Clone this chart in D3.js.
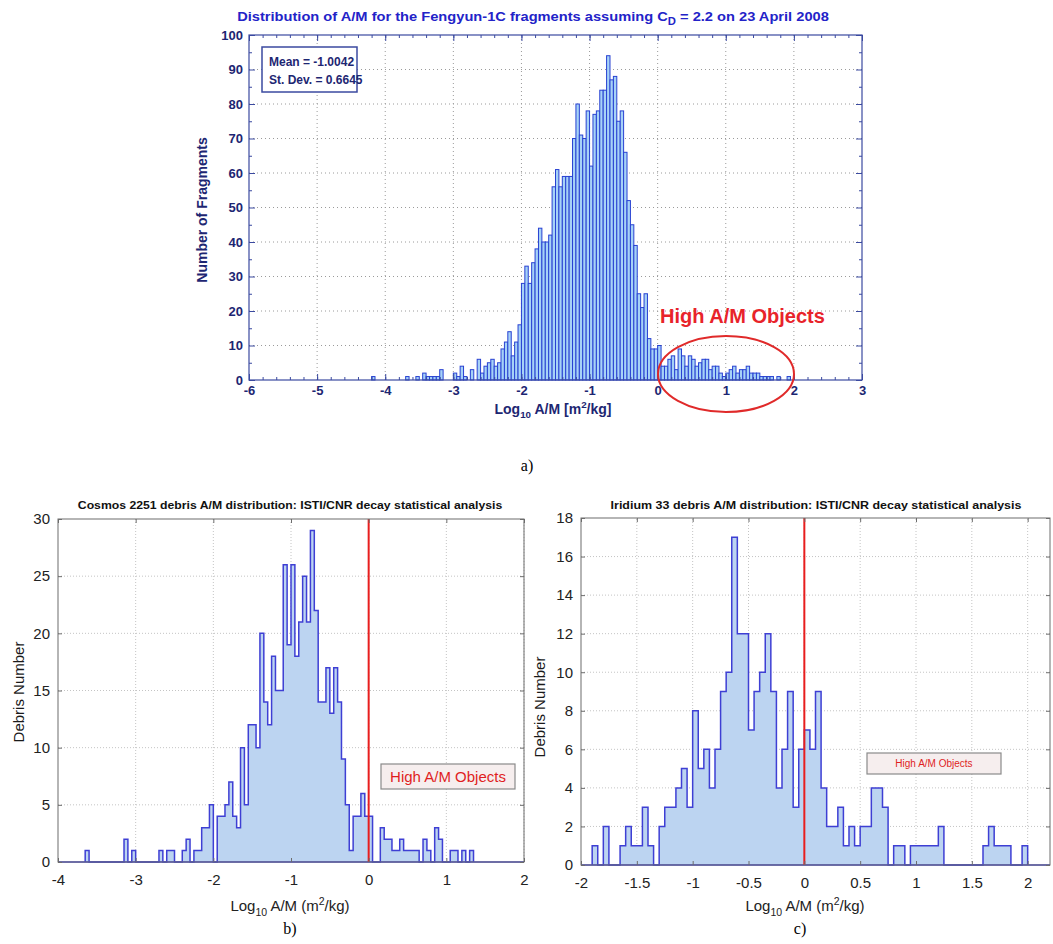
<!DOCTYPE html>
<html>
<head>
<meta charset="utf-8">
<script src="https://cdn.jsdelivr.net/npm/d3@7"></script>
<style>
body { margin: 0; background: #fff; }
svg { display: block; }
</style>
</head>
<body>
<script>
// all three histograms use the same bin width (log10 units)
var binWidth = 0.05;

// (a) Fengyun-1C, first bin starts at -4.25
var fengyunStart = -4.25;
var fengyunCounts = [
    0, 1,
    0, 0, 0, 0, 0, 0, 0, 0, 0,
    1, 0, 0, 1, 0,
    2, 1, 1, 1, 1, 3,
    0, 0, 0,
    2, 1, 4, 1, 0, 3, 0, 6, 2, 4,          // -3.00 .. -2.55
    5, 6, 4, 5, 9, 11, 14, 7, 11, 16,      // -2.50 .. -2.05
    28, 33, 28, 34, 38, 44, 40, 40, 42, 56, // -2.00 .. -1.55
    61, 56, 59, 59, 59, 70, 80, 71, 70, 78, // -1.50 .. -1.05
    62, 77, 78, 84, 84, 94, 87, 88, 75, 78, // -1.00 .. -0.55
    66, 52, 45, 39, 25, 21, 25, 12, 9, 9,   // -0.50 .. -0.05
    10, 4, 4, 6, 7, 3, 9, 7, 4, 7,          //  0.00 ..  0.45
    6, 4, 5, 6, 6, 3, 4, 4, 2, 1,           //  0.50 ..  0.95
    2, 3, 4, 2, 3, 3, 4, 2, 2, 2,           //  1.00 ..  1.45
    1, 1, 1, 1, 0, 1, 0, 0, 1, 0            //  1.50 ..  1.95
];
var fengyunTicksX = [-6, -5, -4, -3, -2, -1, 0, 1, 2, 3];
var fengyunTicksY = [0, 10, 20, 30, 40, 50, 60, 70, 80, 90, 100];

// (b) Cosmos 2251, first bin starts at -3.65
var cosmosStart = -3.65;
var cosmosCounts = [
    1, 0, 0, 0, 0, 0, 0, 0, 0, 0,           // -3.65 .. -3.20
    2, 0, 1, 0, 0, 0, 0, 0, 0, 1,           // -3.15 .. -2.70
    0, 1, 1, 0, 0, 1, 2, 0, 1, 1,           // -2.65 .. -2.20
    3, 3, 5, 0, 4, 4, 5, 7, 4, 3,           // -2.15 .. -1.70
    10, 5, 12, 12, 10, 20, 14, 12, 18, 15,  // -1.65 .. -1.20
    15, 26, 19, 26, 18, 21, 25, 21, 29, 22, // -1.15 .. -0.70
    14, 14, 17, 13, 17, 14, 9, 5, 1, 4,     // -0.65 .. -0.20
    4, 6, 4, 4, 0, 0, 3, 2, 2, 1,           // -0.15 ..  0.30
    1, 2, 1, 1, 1, 1, 0, 2, 1, 0,           //  0.35 ..  0.80
    3, 2, 0, 0, 1, 1, 0, 1, 0, 1            //  0.85 ..  1.30
];
var cosmosTicksX = [-4, -3, -2, -1, 0, 1, 2];
var cosmosTicksY = [0, 5, 10, 15, 20, 25, 30];

// (c) Iridium 33, first bin starts at -1.90
var iridiumStart = -1.90;
var iridiumCounts = [
    1, 0, 2, 0, 0, 1, 2, 1, 1, 3,           // -1.90 .. -1.45
    1, 0, 2, 3, 3, 4, 5, 3, 8, 5,           // -1.40 .. -0.95
    6, 4, 6, 9, 10, 17, 12, 12, 7, 9,       // -0.90 .. -0.45
    10, 12, 9, 4, 6, 9, 3, 6, 7, 6,         // -0.40 ..  0.05
    9, 4, 2, 2, 3, 1, 2, 1, 2, 2,           //  0.10 ..  0.55
    4, 4, 3, 0, 1, 1, 0, 1, 1, 1,           //  0.60 ..  1.05
    1, 1, 2, 0, 0, 0, 0, 0, 0, 0,           //  1.10 ..  1.55
    1, 2, 1, 1, 1, 0, 0, 1                  //  1.60 ..  1.95
];
var iridiumTicksX = [-2, -1.5, -1, -0.5, 0, 0.5, 1, 1.5, 2];
var iridiumTicksY = [0, 2, 4, 6, 8, 10, 12, 14, 16, 18];

var svg = d3.select("body").append("svg")
    .attr("width", 1053)
    .attr("height", 944);

function makeBins(start, counts) {
    return counts.map(function(n, i) {
        var x0 = +(start + i * binWidth).toFixed(2);
        return {x0: x0, x1: +(x0 + binWidth).toFixed(2), n: n};
    });
}

function drawGrid(g, x, y, xs, ys, color, dash) {
    var yb = y.range()[0], yt = y.range()[1], xl = x.range()[0], xr = x.range()[1];
    g.append("g").selectAll("line").data(xs).enter().append("line")
        .attr("x1", function(d) { return x(d); })
        .attr("x2", function(d) { return x(d); })
        .attr("y1", yb).attr("y2", yt)
        .attr("stroke", color).attr("stroke-dasharray", dash);
    g.append("g").selectAll("line").data(ys).enter().append("line")
        .attr("x1", xl).attr("x2", xr)
        .attr("y1", function(d) { return y(d); })
        .attr("y2", function(d) { return y(d); })
        .attr("stroke", color).attr("stroke-dasharray", dash);
}

// box axes with inward ticks on all four sides
function drawAxes(g, x, y, o) {
    var yb = y.range()[0], yt = y.range()[1], xl = x.range()[0], xr = x.range()[1];
    var fmt = function(d) { return String(d); };
    var sets = [
        [d3.axisBottom(x).tickValues(o.xTicks).tickFormat(fmt).tickPadding(o.xPad), "translate(0," + yb + ")", o.tick],
        [d3.axisTop(x).tickValues(o.xTicks).tickFormat(""), "translate(0," + yt + ")", o.tick],
        [d3.axisLeft(y).tickValues(o.yTicks).tickFormat(fmt).tickPadding(o.yPad), "translate(" + xl + ",0)", o.tick],
        [d3.axisRight(y).tickValues(o.yTicks).tickFormat(""), "translate(" + xr + ",0)", o.tick]
    ];
    if (o.xMinor) {
        sets.push([d3.axisBottom(x).tickValues(o.xMinor).tickFormat(""), "translate(0," + yb + ")", o.minorTick]);
        sets.push([d3.axisTop(x).tickValues(o.xMinor).tickFormat(""), "translate(0," + yt + ")", o.minorTick]);
    }
    if (o.yMinor) {
        sets.push([d3.axisLeft(y).tickValues(o.yMinor).tickFormat(""), "translate(" + xl + ",0)", o.minorTick]);
        sets.push([d3.axisRight(y).tickValues(o.yMinor).tickFormat(""), "translate(" + xr + ",0)", o.minorTick]);
    }
    sets.forEach(function(s) {
        var a = g.append("g").attr("transform", s[1])
            .call(s[0].tickSizeInner(-s[2]).tickSizeOuter(0));
        a.select(".domain").remove();
        a.selectAll(".tick line").attr("stroke", o.color);
        a.selectAll(".tick text")
            .attr("fill", o.labelColor)
            .attr("font-family", o.font)
            .attr("font-size", o.size)
            .attr("font-weight", o.weight);
        a.attr("font-family", null).attr("font-size", null);
    });
    g.append("rect")
        .attr("x", xl).attr("y", yt)
        .attr("width", xr - xl).attr("height", yb - yt)
        .attr("fill", "none").attr("stroke", o.color).attr("stroke-width", o.frameWidth);
}

// "Log10 A/M [m2/kg]" with sub/superscripts
function logLabel(g, cx, y, size, weight, color, open, close) {
    var t = g.append("text")
        .attr("x", cx).attr("y", y)
        .attr("text-anchor", "middle")
        .attr("font-family", "Arial, 'Liberation Sans', sans-serif")
        .attr("font-size", size).attr("font-weight", weight).attr("fill", color);
    t.append("tspan").text("Log");
    t.append("tspan").attr("font-size", size * 0.7).attr("dy", size * 0.3).text("10");
    t.append("tspan").attr("dy", -size * 0.3).text(" A/M " + open + "m");
    t.append("tspan").attr("font-size", size * 0.7).attr("dy", -size * 0.4).text("2");
    t.append("tspan").attr("dy", size * 0.4).text("/kg" + close);
    return t;
}

// squeeze or stretch a centred text to a measured width
function fitWidth(t, cx, width) {
    var w = t.node().getBBox().width;
    var k = width / w;
    t.attr("transform", "translate(" + cx + ",0) scale(" + k + ",1) translate(" + (-cx) + ",0)");
}

// ---------------- (a) Fengyun-1C ----------------
var navy = "#1d2672";
var gA = svg.append("g");
var xA = d3.scaleLinear().domain([-6, 3]).range([249, 862]);
var yA = d3.scaleLinear().domain([0, 100]).range([380, 35]);

drawGrid(gA, xA, yA, fengyunTicksX.slice(1, -1), fengyunTicksY.slice(1, -1), "#9a9a9a", "1,3");

gA.append("g").selectAll("rect")
    .data(makeBins(fengyunStart, fengyunCounts).filter(function(b) { return b.n > 0; }))
    .enter().append("rect")
    .attr("x", function(b) { return xA(b.x0); })
    .attr("width", function(b) { return xA(b.x1) - xA(b.x0); })
    .attr("y", function(b) { return yA(b.n); })
    .attr("height", function(b) { return yA(0) - yA(b.n); })
    .attr("fill", "#a6d2f7")
    .attr("stroke", "#2841d2")
    .attr("stroke-width", 1);

drawAxes(gA, xA, yA, {
    xTicks: fengyunTicksX, yTicks: fengyunTicksY,
    xMinor: d3.range(-5.8, 3, 0.2).map(function(v) { return +v.toFixed(1); }),
    yMinor: d3.range(5, 100, 10),
    tick: 6, minorTick: 3, color: "#3b4aa0", frameWidth: 1.2,
    labelColor: navy, font: "Arial, 'Liberation Sans', sans-serif", size: 13, weight: "bold",
    xPad: 6, yPad: 6
});

var titleA = gA.append("text")
    .attr("x", 533).attr("y", 21)
    .attr("text-anchor", "middle")
    .attr("font-family", "Arial, 'Liberation Sans', sans-serif")
    .attr("font-size", 13).attr("font-weight", "bold").attr("fill", "#2323c8");
titleA.append("tspan").text("Distribution of A/M for the Fengyun-1C fragments assuming C");
titleA.append("tspan").attr("font-size", 10).attr("dy", 4).text("D");
titleA.append("tspan").attr("dy", -4).text(" = 2.2 on 23 April 2008");
fitWidth(titleA, 533, 592);

gA.append("text")
    .attr("transform", "translate(207,210) rotate(-90)")
    .attr("text-anchor", "middle")
    .attr("font-family", "Arial, 'Liberation Sans', sans-serif")
    .attr("font-size", 14).attr("font-weight", "bold").attr("fill", navy)
    .text("Number of Fragments");

logLabel(gA, 553, 414, 14, "bold", navy, "[", "]");

// statistics box
gA.append("rect")
    .attr("x", 262).attr("y", 47).attr("width", 95).attr("height", 45)
    .attr("fill", "#fff").attr("stroke", "#3b4aa0").attr("stroke-width", 1.5);
gA.append("text").attr("x", 269).attr("y", 66)
    .attr("font-family", "Arial, 'Liberation Sans', sans-serif")
    .attr("font-size", 12).attr("font-weight", "bold").attr("fill", navy)
    .text("Mean = -1.0042");
gA.append("text").attr("x", 269).attr("y", 84)
    .attr("font-family", "Arial, 'Liberation Sans', sans-serif")
    .attr("font-size", 12).attr("font-weight", "bold").attr("fill", navy)
    .text("St. Dev. = 0.6645");

// high A/M note
gA.append("text").attr("x", 660).attr("y", 323)
    .attr("font-family", "Arial, 'Liberation Sans', sans-serif")
    .attr("font-size", 20).attr("font-weight", "bold").attr("fill", "#e8232a")
    .text("High A/M Objects");
gA.append("ellipse")
    .attr("cx", 726).attr("cy", 374).attr("rx", 68).attr("ry", 38)
    .attr("fill", "none").attr("stroke", "#e02a2a").attr("stroke-width", 2);

svg.append("text").attr("x", 527).attr("y", 471)
    .attr("text-anchor", "middle")
    .attr("font-family", "'Liberation Serif', 'Times New Roman', serif")
    .attr("font-size", 16).text("a)");

// ---------------- (b) and (c): step histograms ----------------
function stepPanel(cfg) {
    var g = svg.append("g");
    var x = d3.scaleLinear().domain(cfg.xDomain).range(cfg.xRange);
    var y = d3.scaleLinear().domain(cfg.yDomain).range(cfg.yRange);
    var bins = makeBins(cfg.start, cfg.counts);
    var last = bins[bins.length - 1];

    var pts = [[bins[0].x0, 0]]
        .concat(bins.map(function(b) { return [b.x0, b.n]; }))
        .concat([[last.x1, 0]]);

    drawGrid(g, x, y, cfg.xTicks.slice(1), cfg.yTicks.slice(1, -1), "#c4c4c4", "1,2");

    g.append("path").datum(pts)
        .attr("d", d3.area().curve(d3.curveStepAfter)
            .x(function(d) { return x(d[0]); })
            .y0(y(0))
            .y1(function(d) { return y(d[1]); }))
        .attr("fill", "#bcd4f1");
    g.append("line")
        .attr("x1", x.range()[0]).attr("x2", x.range()[1])
        .attr("y1", y(0)).attr("y2", y(0))
        .attr("stroke", "#3e3fd4").attr("stroke-width", 1.5);
    g.append("path").datum(pts)
        .attr("d", d3.line().curve(d3.curveStepAfter)
            .x(function(d) { return x(d[0]); })
            .y(function(d) { return y(d[1]); }))
        .attr("fill", "none").attr("stroke", "#3e3fd4").attr("stroke-width", 1.5);

    // red separator at log10 A/M = 0
    g.append("line")
        .attr("x1", x(0)).attr("x2", x(0))
        .attr("y1", y.range()[1]).attr("y2", y.range()[0])
        .attr("stroke", "#e81e1e").attr("stroke-width", 2);

    drawAxes(g, x, y, {
        xTicks: cfg.xTicks, yTicks: cfg.yTicks,
        tick: 4, color: "#6d6d6d", frameWidth: 1,
        labelColor: "#222", font: "Arial, 'Liberation Sans', sans-serif", size: 15, weight: "normal",
        xPad: 12, yPad: 8
    });

    var t = g.append("text")
        .attr("x", cfg.titleX).attr("y", 509)
        .attr("text-anchor", "middle")
        .attr("font-family", "Arial, 'Liberation Sans', sans-serif")
        .attr("font-size", 11).attr("font-weight", "bold").attr("fill", "#111")
        .text(cfg.title);
    fitWidth(t, cfg.titleX, cfg.titleW);

    g.append("text")
        .attr("transform", "translate(" + cfg.yLabelX + "," + cfg.yLabelY + ") rotate(-90)")
        .attr("text-anchor", "middle")
        .attr("font-family", "Arial, 'Liberation Sans', sans-serif")
        .attr("font-size", 15).attr("fill", "#1a1a1a")
        .text("Debris Number");

    logLabel(g, cfg.xLabelX, 911, 15, "normal", "#222", "(", ")");

    // "High A/M Objects" box
    g.append("rect")
        .attr("x", cfg.box[0]).attr("y", cfg.box[1])
        .attr("width", cfg.box[2]).attr("height", cfg.box[3])
        .attr("fill", "#f6eeee").attr("stroke", "#8a8a8a").attr("stroke-width", 1.2);
    g.append("text")
        .attr("x", cfg.box[0] + cfg.box[2] / 2).attr("y", cfg.box[1] + cfg.box[3] / 2)
        .attr("dy", "0.35em")
        .attr("text-anchor", "middle")
        .attr("font-family", "Arial, 'Liberation Sans', sans-serif")
        .attr("font-size", cfg.boxFont).attr("fill", "#e01e1e")
        .text("High A/M Objects");

    svg.append("text").attr("x", cfg.tagX).attr("y", 934)
        .attr("text-anchor", "middle")
        .attr("font-family", "'Liberation Serif', 'Times New Roman', serif")
        .attr("font-size", 16).text(cfg.tag);
}

stepPanel({
    start: cosmosStart, counts: cosmosCounts,
    xDomain: [-4, 2], xRange: [58, 524],
    yDomain: [0, 30], yRange: [862, 519],
    xTicks: cosmosTicksX, yTicks: cosmosTicksY,
    title: "Cosmos 2251 debris A/M distribution: ISTI/CNR decay statistical analysis",
    titleX: 290, titleW: 425,
    yLabelX: 24, yLabelY: 692, xLabelX: 290,
    box: [381, 764, 134, 25], boxFont: 15,
    tag: "b)", tagX: 290
});

stepPanel({
    start: iridiumStart, counts: iridiumCounts,
    xDomain: [-2, 2.2], xRange: [581, 1050],
    yDomain: [0, 18], yRange: [865, 518],
    xTicks: iridiumTicksX, yTicks: iridiumTicksY,
    title: "Iridium 33 debris A/M distribution: ISTI/CNR decay statistical analysis",
    titleX: 816, titleW: 411,
    yLabelX: 545, yLabelY: 707, xLabelX: 805,
    box: [867, 753, 134, 21], boxFont: 10,
    tag: "c)", tagX: 800
});
</script>
</body>
</html>
